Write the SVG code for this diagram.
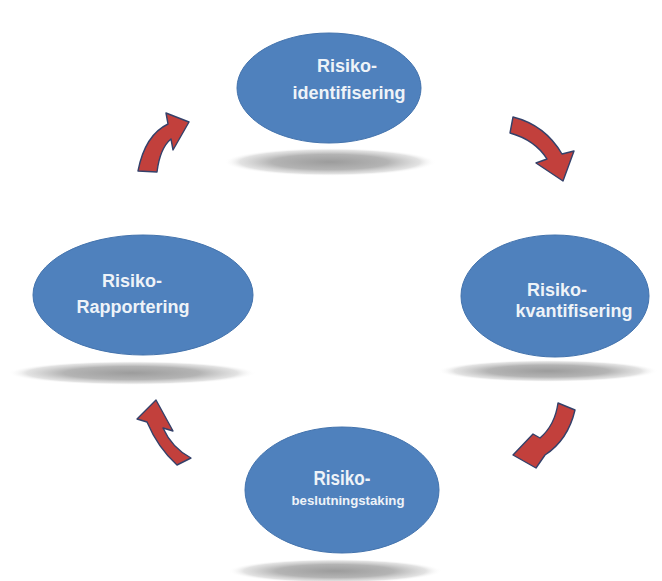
<svg xmlns="http://www.w3.org/2000/svg" width="662" height="581" viewBox="0 0 662 581">
<defs>
<radialGradient id="sh" cx="0.5" cy="0.5" r="0.5">
<stop offset="0" stop-color="#9c9c9c"/>
<stop offset="0.55" stop-color="#b4b4b4"/>
<stop offset="0.85" stop-color="#d6d6d6" stop-opacity="0.7"/>
<stop offset="1" stop-color="#ffffff" stop-opacity="0"/>
</radialGradient>
</defs>
<style>
.shadow{fill:url(#sh)}
.node{fill:#4f81bd;stroke:#4373ad;stroke-width:1}
.lbl{font-family:"Liberation Sans",Arial,sans-serif;font-weight:bold;fill:#eef3f8;text-anchor:middle}
.arr{fill:#c2403c;stroke:#34416a;stroke-width:1.4;stroke-linejoin:round}
</style>
<rect width="662" height="581" fill="#ffffff"/>
<g id="node-identifisering">
<ellipse class="shadow" cx="330" cy="162" rx="106" ry="14"/>
<ellipse class="node" cx="329" cy="88" rx="92" ry="55"/>
<text class="lbl" x="347" y="72" font-size="18">Risiko-</text>
<text class="lbl" x="349" y="99" font-size="18">identifisering</text>
</g>
<g id="node-kvantifisering">
<ellipse class="shadow" cx="548" cy="371" rx="110" ry="11"/>
<ellipse class="node" cx="555" cy="296" rx="94" ry="61"/>
<text class="lbl" x="557" y="296" font-size="18">Risiko-</text>
<text class="lbl" x="574" y="317" font-size="18">kvantifisering</text>
</g>
<g id="node-beslutningstaking">
<ellipse class="shadow" cx="335" cy="571" rx="107" ry="12"/>
<ellipse class="node" cx="342" cy="490" rx="97" ry="63"/>
<text class="lbl" x="342" y="485" font-size="20" textLength="57" lengthAdjust="spacingAndGlyphs">Risiko-</text>
<text class="lbl" x="348" y="505" font-size="12" textLength="113" lengthAdjust="spacingAndGlyphs">beslutningstaking</text>
</g>
<g id="node-rapportering">
<ellipse class="shadow" cx="132" cy="373" rx="124" ry="12"/>
<ellipse class="node" cx="143" cy="295" rx="110" ry="60"/>
<text class="lbl" x="132" y="287" font-size="18">Risiko-</text>
<text class="lbl" x="133" y="313" font-size="18">Rapportering</text>
</g>
<g id="connectors">
<path class="arr" d="M513,117 Q545,125 562,154 L574,151 L563,181 L536,163 L547,159 Q535,140 510,133 Z"/>
<path class="arr" d="M558,403 Q555,425 540,438 L533,434 L513,455 L536,468 L545,455 Q568,440 575,410 Z"/>
<path class="arr" d="M177,465 Q158,448 147,422 L137,419 L156,400 L173,431 L163,428 Q172,448 191,458 Z"/>
<path class="arr" d="M138,171 Q145,135 168,124 L166,113 L189,122 L173,150 L171,139 Q160,148 157,172 Z"/>
</g>
</svg>
